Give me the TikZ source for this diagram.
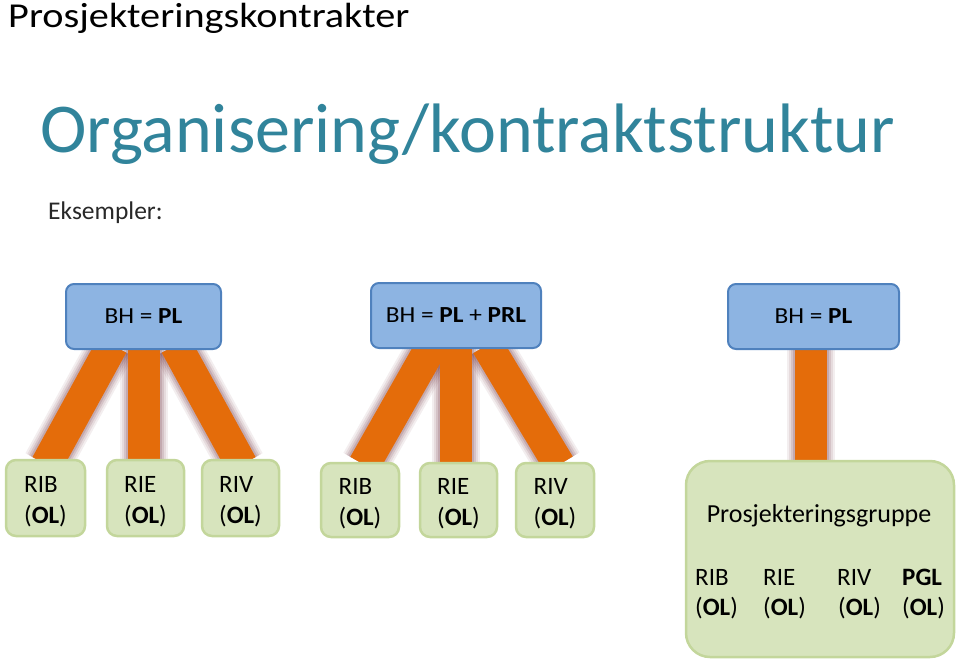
\documentclass[tikz,border=0pt]{standalone}
\usepackage{fontspec}
\setmainfont{Carlito}
\usetikzlibrary{calc}
\definecolor{titleteal}{RGB}{49,132,155}
\definecolor{bluefill}{RGB}{141,180,226}
\definecolor{bluebd}{RGB}{79,129,189}
\definecolor{greenfill}{RGB}{215,228,189}
\definecolor{greenbd}{RGB}{195,214,155}
\definecolor{barorange}{RGB}{228,108,10}
\definecolor{shadowc}{RGB}{90,20,35}
\definecolor{subgray}{RGB}{40,40,40}
\newcommand{\twoline}[2]{\raisebox{-4pt}[\height][\depth]{\begin{tabular}{@{}l@{}}#1\\#2\end{tabular}}}
\pgfdeclarelayer{bg}
\pgfsetlayers{bg,main}
\begin{document}
\begin{tikzpicture}[x=1pt,y=-1pt,
  txt/.style={inner sep=0pt, anchor=base west},
  bluebox/.style={draw=bluebd, fill=bluefill, line width=2pt, rounded corners=8pt,
    inner sep=0pt, font=\fontsize{23}{28}\selectfont},
  greenbox/.style={draw=greenbd, fill=greenfill, line width=2.5pt, rounded corners=10pt,
    inner sep=0pt, font=\fontsize{25}{31}\selectfont},
  bigbox/.style={draw=greenbd, fill=greenfill, line width=2.5pt, rounded corners=24pt, inner sep=0pt},
  gtxt/.style={txt, font=\fontsize{25}{31}\selectfont},
  bar/.style={line width=32pt, draw=barorange, line cap=butt},
  shA/.style={line width=48pt, draw=shadowc, opacity=0.07, line cap=butt},
  shB/.style={line width=44pt, draw=shadowc, opacity=0.09, line cap=butt},
  shC/.style={line width=40pt, draw=shadowc, opacity=0.12, line cap=butt},
  shD/.style={line width=36pt, draw=shadowc, opacity=0.15, line cap=butt}
]
\useasboundingbox (0,0) rectangle (960,665);

% titles
\node[txt, font=\fontsize{35}{42}\selectfont] (t1) at (8,27.5) {\scalebox{1.15}[1]{Prosjekteringskontrakter}};
\node[txt, font=\fontsize{70}{84}\selectfont, text=titleteal] (t2) at (40,152) {Organisering/kontraktstruktur};
\node[txt, font=\fontsize{25.5}{31}\selectfont, text=subgray] (t3) at (48,219.5) {Eksempler:};

% tree 1
\node[bluebox, minimum width=155pt, minimum height=65pt] (b1) at (143.5,316.5) {\scalebox{1.1}[1]{BH = \textbf{PL}}};
\node[greenbox, minimum width=79pt, minimum height=76pt] (g11) at (45.5,498) {\twoline{RIB}{(\textbf{OL})}};
\node[greenbox, minimum width=77pt, minimum height=76pt] (g12) at (145.5,498) {\twoline{RIE}{(\textbf{OL})}};
\node[greenbox, minimum width=77pt, minimum height=76pt] (g13) at (240.5,498) {\twoline{RIV}{(\textbf{OL})}};

% tree 2
\node[bluebox, minimum width=170pt, minimum height=65pt] (b2) at (456,315.5) {\scalebox{1.1}[1]{BH = \textbf{PL} + \textbf{PRL}}};
\node[greenbox, minimum width=78pt, minimum height=74pt] (g21) at (360,500) {\twoline{RIB}{(\textbf{OL})}};
\node[greenbox, minimum width=77pt, minimum height=74pt] (g22) at (458.5,500) {\twoline{RIE}{(\textbf{OL})}};
\node[greenbox, minimum width=78pt, minimum height=74pt] (g23) at (555,500) {\twoline{RIV}{(\textbf{OL})}};

% tree 3
\node[bluebox, minimum width=171pt, minimum height=65pt] (b3) at (813.5,316.5) {\scalebox{1.1}[1]{BH = \textbf{PL}}};
\node[bigbox, minimum width=268pt, minimum height=196pt] (g3) at (820,559) {};
\node[txt, anchor=base, font=\fontsize{26}{31}\selectfont] (pg) at (819,522) {Prosjekteringsgruppe};
\node[gtxt] (c1a) at (695,585) {RIB};
\node[gtxt] (c1b) at (695,615) {(\textbf{OL})};
\node[gtxt] (c2a) at (763,585) {RIE};
\node[gtxt] (c2b) at (763,615) {(\textbf{OL})};
\node[gtxt] (c3a) at (837,585) {RIV};
\node[gtxt] (c3b) at (838,615) {(\textbf{OL})};
\node[gtxt] (c4a) at (902,585) {\textbf{PGL}};
\node[gtxt] (c4b) at (902,615) {(\textbf{OL})};

% bars
\begin{pgfonlayer}{bg}
\foreach \s in {shA,shB,shC,shD,bar}{
  \draw[\s] ($(b1.south)+(-31.3,-5)$) -- ($(g11.north)+(1,6)$);
  \draw[\s] ($(b1.south)+(32.3,-5)$) -- ($(g13.north)+(1.1,6)$);
  \draw[\s] ($(b1.south)+(0.5,-5)$) -- ($(g12.north)+(-1.5,6)$);
  \draw[\s] ($(b2.south)+(-23.7,-4)$) -- ($(g21.north)+(4.2,3)$);
  \draw[\s] ($(b2.south)+(31,-4)$) -- ($(g23.north)+(4,3)$);
  \draw[\s] ($(b2.south)+(0,-4)$) -- ($(g22.north)+(-2.5,5)$);
  \draw[\s] ($(b3.south)+(-2.5,-4)$) -- ($(g3.north)+(-9,5)$);
}
\end{pgfonlayer}
\end{tikzpicture}
\end{document}
